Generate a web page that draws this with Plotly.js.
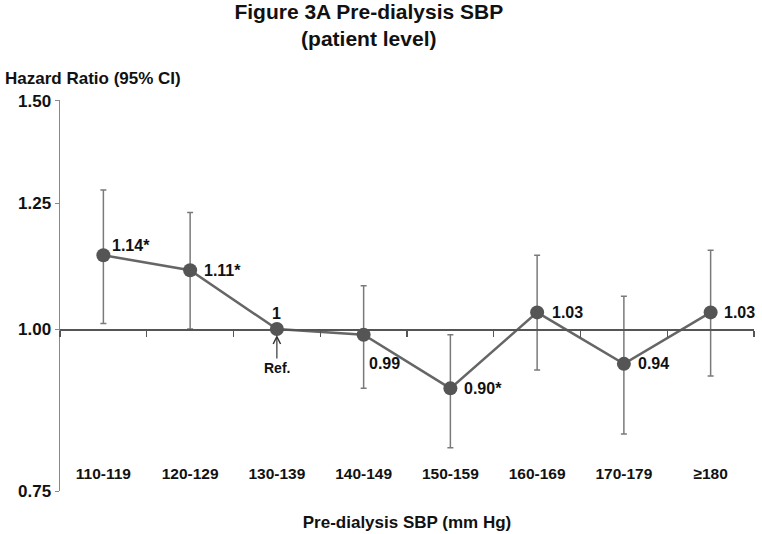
<!DOCTYPE html>
<html>
<head>
<meta charset="utf-8">
<script src="https://cdn.plot.ly/plotly-3.0.1.min.js"></script>
<style>html,body{margin:0;padding:0;background:#fff;}#chart{width:762px;height:534px;}</style>
</head>
<body>
<div id="chart"></div>
<script>
// ---- data ----
const categories = ['110-119','120-129','130-139','140-149','150-159','160-169','170-179','\u2265180'];
const hr = [1.14, 1.11, 1.00, 0.99, 0.90, 1.03, 0.94, 1.03];
const ciLow = [1.01, 1.00, null, 0.90, 0.81, 0.93, 0.83, 0.92];
const ciHigh = [1.28, 1.23, null, 1.08, 0.99, 1.14, 1.06, 1.15];
const pointLabels = ['1.14*','1.11*','1','0.99','0.90*','1.03','0.94','1.03'];
const yTickVals = [0.75, 1.00, 1.25, 1.50];
const yTickText = ['0.75','1.00','1.25','1.50'];
const refCategory = '130-139';
const refValue = 1.00;

// ---- styles ----
const labelOffsets = [ // [xshift, yshift, xanchor]
  [7, 10, 'left'], [12, 0, 'left'], [0, 16, 'center'], [3, -29, 'left'],
  [12, 0, 'left'], [13, 0, 'left'], [12, 0, 'left'], [11, 0, 'left']
];

const plus = hr.map((v,i) => ciHigh[i] == null ? null : ciHigh[i] - v);
const minus = hr.map((v,i) => ciLow[i] == null ? null : v - ciLow[i]);

const yRange = [Math.log10(0.75), Math.log10(1.502)];
const refPos = (Math.log10(refValue) - yRange[0]) / (yRange[1] - yRange[0]);

const traces = [
  {
    x: categories, y: hr, type: 'scatter', mode: 'lines+markers',
    line: {color: '#666666', width: 2.5},
    marker: {color: '#555555', size: 14},
    error_y: {type: 'data', symmetric: false, array: plus, arrayminus: minus,
              color: '#7a7a7a', thickness: 1.5, width: 3},
    hoverinfo: 'x+y', showlegend: false
  },
  {
    x: categories, y: hr, type: 'scatter', mode: 'none', xaxis: 'x2',
    hoverinfo: 'skip', showlegend: false
  }
];

const annotations = pointLabels.map((t,i) => ({
  x: categories[i], y: Math.log10(hr[i]), xref: 'x', yref: 'y', text: t,
  showarrow: false, xanchor: labelOffsets[i][2], yanchor: 'middle',
  xshift: labelOffsets[i][0], yshift: labelOffsets[i][1],
  font: {size: 16, color: '#111', weight: 'bold'}
}));
annotations.push({
  x: refCategory, y: Math.log10(refValue), xref: 'x', yref: 'y', text: 'Ref.',
  showarrow: true, arrowhead: 5, arrowsize: 1.2, arrowwidth: 1.2, arrowcolor: '#333',
  ax: 0, ay: 39, standoff: 6, font: {size: 14, color: '#111', weight: 'bold'}
});
annotations.push({
  x: 0, y: 1, xref: 'paper', yref: 'paper', xanchor: 'left', yanchor: 'middle',
  text: 'Hazard Ratio (95% CI)', showarrow: false, xshift: -57, yshift: 22,
  font: {size: 17, color: '#111', weight: 'bold'}
});

const layout = {
  width: 762, height: 534,
  margin: {l: 60, r: 8, t: 100, b: 43},
  paper_bgcolor: '#ffffff', plot_bgcolor: '#ffffff',
  font: {family: 'Liberation Sans, Arial, sans-serif', size: 15, color: '#111', weight: 'bold'},
  title: {
    text: 'Figure 3A Pre-dialysis SBP<br>(patient level)',
    x: 0.484, xanchor: 'center', y: 0.965, yanchor: 'top',
    font: {size: 21, color: '#111', weight: 'bold'}
  },
  xaxis: {
    type: 'category', range: [-0.5, 7.5], anchor: 'free', position: 0.072,
    showline: false, ticks: '', showgrid: false, zeroline: false,
    tickfont: {size: 15.5, weight: 'bold'},
    title: {text: 'Pre-dialysis SBP (mm Hg)', font: {size: 17, weight: 'bold'}, standoff: 34}
  },
  xaxis2: {
    type: 'category', range: [-0.5, 7.5], overlaying: 'x', anchor: 'free', position: refPos,
    side: 'bottom', showline: true, linecolor: '#555555', linewidth: 1.5,
    ticks: 'outside', tickson: 'boundaries', ticklen: 6, tickcolor: '#555555', tickwidth: 1.2,
    showticklabels: false, showgrid: false, zeroline: false
  },
  yaxis: {
    type: 'log', range: yRange, tickvals: yTickVals, ticktext: yTickText,
    showline: true, linecolor: '#888888', linewidth: 1.5,
    ticks: 'outside', ticklen: 4, tickcolor: '#888888', tickwidth: 1,
    showgrid: false, zeroline: false,
    tickfont: {size: 17, weight: 'bold'}
  },
  annotations: annotations
};

Plotly.newPlot('chart', traces, layout, {displayModeBar: false, staticPlot: true});
</script>
</body>
</html>
